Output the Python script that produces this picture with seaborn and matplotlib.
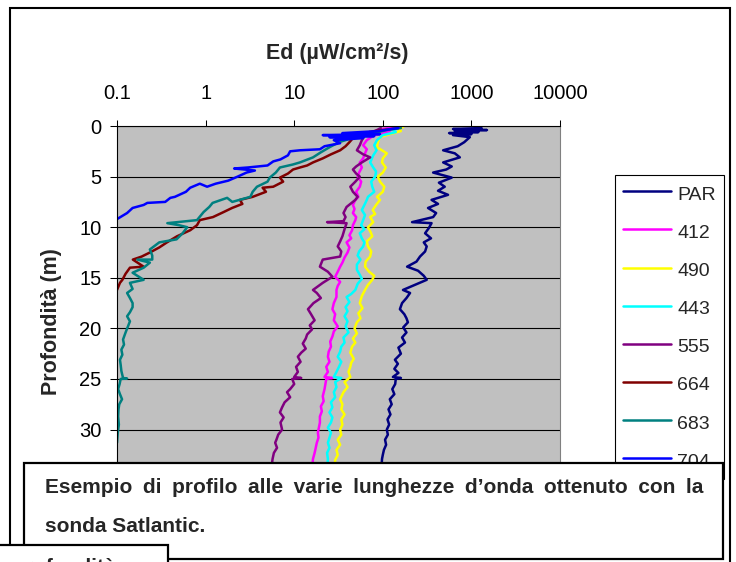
import matplotlib
matplotlib.use("Agg")
import matplotlib.pyplot as plt
from matplotlib.patches import Rectangle
from matplotlib.lines import Line2D
from matplotlib.ticker import FixedLocator, FixedFormatter, NullLocator
import numpy as np
import pandas as pd
import seaborn as sns

# ---------------- data ----------------
series_names = ["PAR", "412", "490", "443", "555", "664", "683", "704"]
series_colors = ["#000080", "#FF00FF", "#FFFF00", "#00FFFF",
                 "#800080", "#800000", "#008080", "#0000FF"]
x_ticks = [0.1, 1, 10, 100, 1000, 10000]
x_tick_labels = ["0.1", "1", "10", "100", "1000", "10000"]
y_ticks = [0, 5, 10, 15, 20, 25, 30]
y_grid_extra = [35]

par_depth = [0.2, 0.3, 0.4, 0.5, 0.6, 0.7, 0.8, 0.9, 1.1, 1.6, 2.0, 2.4, 2.7, 3.1, 3.6, 4.0, 4.3, 4.6,
             5.1, 5.6, 6.0, 6.4, 6.8, 7.3, 7.7, 8.1, 8.6, 9.0, 9.5, 9.6, 10.1, 10.6, 11.1, 11.5, 11.9,
             12.4, 12.9, 13.4, 13.9, 14.3, 14.8, 15.2, 15.7, 16.2, 16.5, 17.0, 17.5, 18.1, 18.6, 19.0,
             19.4, 19.9, 20.4, 20.9, 21.4, 21.9, 22.5, 23.1, 23.5, 24.0, 24.4, 24.8, 24.9, 25.0, 25.5,
             26.0, 26.5, 27.0, 27.5, 28.0, 28.5, 29.0, 29.5, 30.0, 30.5, 31.0, 31.5, 32.0, 32.5, 32.9,
             33.5, 34.0]
par_ed = [1300, 620, 1500, 650, 1200, 560, 1000, 620, 960, 830, 700, 480, 650, 740, 480, 600, 520, 370,
          600, 430, 500, 420, 545, 355, 420, 324, 400, 370, 214, 355, 330, 300, 350, 290, 313,
          300, 263, 240, 188, 250, 290, 313, 230, 169, 203, 185, 165, 156, 175, 185,
          192, 170, 185, 165, 178, 150, 160, 137, 148, 135, 150, 130, 160, 140, 138,
          128, 135, 120, 126, 116, 122, 113, 118, 111, 114, 106, 109, 103, 100, 98,
          97, 95]

b412_depth = [0.1, 0.3, 0.6, 0.9, 1.4, 1.9, 2.3, 2.7, 3.2, 3.6, 4.1, 4.6, 5.0, 5.5, 6.0, 6.5, 7.0, 7.3,
              7.8, 8.2, 8.6, 9.0, 9.3, 9.8, 10.3, 10.8, 11.1, 11.5, 12.0, 12.5, 13.0, 13.5, 13.9, 14.4,
              14.9, 15.4, 15.8, 16.2, 16.9, 17.5, 18.1, 18.6, 19.2, 19.8, 20.3, 20.8, 21.3, 21.8, 22.3,
              22.8, 23.3, 23.8, 24.3, 24.8, 24.9, 25.0, 25.5, 26.0, 26.7, 27.2, 27.7, 28.2, 28.7, 29.3,
              29.8, 30.3, 30.8, 31.3, 31.8, 32.3, 32.9, 34.0]
b412_ed = [140, 100, 120, 80, 66, 60, 66, 63, 60, 55, 58, 54, 52, 57, 55, 50, 53, 49,
           46, 48, 46, 50, 49, 46, 45, 42, 44, 39, 42, 40, 37, 35, 33, 31,
           29, 33, 31, 30, 30, 28, 27, 29, 28, 31, 28, 27, 25.5, 26, 24.5,
           24, 25, 23, 24, 22, 27, 23, 22.5, 22, 21, 21.5, 20, 20.5, 19.5, 19.5,
           19, 18.5, 18.8, 18, 17.5, 17, 16.3, 15.8]

b490_depth = [0.1, 0.3, 0.5, 0.8, 1.1, 1.6, 2.1, 2.7, 3.2, 3.6, 4.1, 4.6, 5.0, 5.5, 6.0, 6.5, 7.0, 7.3,
              7.8, 8.3, 8.7, 9.0, 9.5, 10.0, 10.5, 10.9, 11.4, 11.9, 12.4, 12.9, 13.4, 13.9, 14.4, 14.8,
              15.2, 15.7, 16.2, 16.8, 17.5, 18.0, 18.5, 19.0, 19.4, 20.0, 20.5, 21.0, 21.4, 21.8, 22.4,
              23.0, 23.4, 23.8, 24.3, 24.8, 25.3, 25.8, 26.3, 27.0, 27.5, 28.0, 28.5, 29.0, 29.5, 30.0,
              30.5, 31.0, 31.5, 32.0, 32.5, 33.0, 34.0]
b490_ed = [170, 150, 160, 120, 93, 88, 86, 111, 100, 98, 108, 100, 88, 93, 104, 100, 86, 93,
           84, 77, 82, 72, 78, 68, 73, 76, 66, 68, 74, 72, 64, 63, 70, 80,
           76, 68, 63, 58, 55, 59, 53, 56, 51, 48, 51, 46, 49, 45, 43,
           47, 44, 43, 41, 43, 37, 40, 36, 33, 35, 34, 37, 34, 35, 33,
           34, 31, 33, 30, 31, 29, 28.5]

b443_depth = [0.1, 0.3, 0.6, 0.9, 1.4, 1.9, 2.4, 2.9, 3.6, 4.1, 4.5, 5.0, 5.5, 6.0, 6.5, 7.0, 7.3, 7.8,
              8.3, 8.8, 9.3, 9.8, 10.2, 10.6, 11.1, 11.5, 11.9, 12.4, 12.8, 13.2, 13.7, 14.2, 14.7, 15.1,
              15.6, 16.2, 16.6, 16.9, 17.4, 17.9, 18.3, 18.8, 19.3, 19.8, 20.4, 20.9, 21.4, 21.8, 22.3,
              22.8, 23.3, 23.8, 24.3, 24.8, 24.9, 25.3, 25.8, 26.3, 26.8, 27.3, 27.8, 28.3, 28.8, 29.3,
              29.8, 30.3, 30.8, 31.3, 31.8, 32.3, 32.9, 34.0]
b443_ed = [155, 130, 140, 100, 86, 80, 85, 78, 72, 78, 84, 82, 74, 76, 80, 68, 66, 62,
           58, 63, 60, 57, 62, 55, 58, 62, 60, 54, 52, 56, 51, 51, 55, 58,
           52, 49, 44, 39, 42, 38, 40, 37, 40, 38, 41, 36, 37, 34, 33,
           31, 34, 32, 30, 28, 34, 29, 30, 28, 29, 26, 27, 25, 27, 26,
           24, 26, 25, 24, 25, 23.5, 24, 23.5]

b555_depth = [0.2, 0.4, 0.7, 1.0, 1.4, 1.9, 2.4, 2.8, 3.1, 3.6, 4.0, 4.3, 4.7, 5.0, 5.5, 6.0, 6.5, 7.0,
              7.3, 7.7, 8.0, 8.6, 9.0, 9.4, 9.5, 9.6, 10.2, 10.9, 11.4, 11.9, 12.4, 12.9, 13.2, 13.9,
              14.4, 14.9, 15.5, 16.2, 16.5, 17.0, 17.5, 18.1, 18.6, 19.2, 19.7, 20.1, 20.6, 21.0, 21.5,
              22.0, 22.4, 22.8, 23.3, 23.8, 24.3, 24.8, 24.9, 25.0, 25.5, 26.0, 26.3, 26.8, 27.3, 27.8,
              28.3, 28.8, 29.3, 30.0, 30.5, 31.0, 31.3, 31.8, 32.3, 32.9, 34.0]
b555_ed = [95, 86, 70, 62, 58, 55, 51, 60, 72, 58, 50, 46, 50, 55, 49, 43, 46, 52,
           49, 43, 39, 36, 38, 36, 23.5, 39, 37, 35, 33, 31, 34, 33, 21, 19.5,
           24, 27, 21, 16.3, 18, 20, 16.5, 14.3, 15.5, 17, 15, 15.9, 14, 13.5, 12.5,
           13.5, 12, 11, 11.8, 10.5, 11, 10, 12, 9.5, 10, 9, 8.3, 9, 7.8, 7.3,
           6.9, 7.6, 7.0, 7.3, 6.6, 6.3, 6.1, 6.4, 5.9, 5.7, 5.5]

b664_depth = [0.2, 0.4, 0.6, 0.7, 0.9, 1.2, 1.6, 2.0, 2.4, 2.8, 3.2, 3.6, 3.9, 4.1, 4.3, 4.7, 5.1, 5.5,
              6.0, 6.1, 6.5, 7.0, 7.3, 7.7, 8.1, 8.5, 9.0, 9.3, 9.8, 10.3, 10.9, 11.5, 12.0, 12.5, 12.9,
              13.2, 13.9, 14.0, 14.6, 15.2, 15.5, 16.2]
b664_ed = [150, 100, 70, 86, 60, 46, 42, 38, 33, 26, 21, 16.3, 14, 11.6, 9.7, 8.5, 6.9, 7.5,
           5.8, 4.4, 4.8, 3.4, 2.44, 2.6, 1.99, 1.6, 1.21, 0.86, 0.8, 0.67, 0.475, 0.366, 0.3, 0.235, 0.19,
           0.151, 0.2, 0.14, 0.125, 0.115, 0.108, 0.1]

b683_depth = [0.2, 0.4, 0.6, 0.8, 1.2, 1.6, 2.1, 2.6, 3.1, 3.6, 3.8, 4.1, 4.6, 5.1, 5.5, 6.0, 6.5, 7.0,
              7.5, 7.1, 7.6, 8.0, 8.5, 9.3, 9.6, 9.8, 10.0, 10.6, 11.2, 11.5, 12.2, 12.8, 13.2, 13.2,
              13.5, 14.0, 14.5, 15.2, 15.5, 16.1, 16.5, 17.0, 17.5, 17.9, 18.4, 18.8, 19.3, 19.8, 20.4,
              21.1, 21.6, 22.1, 22.6, 23.1, 23.6, 24.2, 24.9, 24.95, 25.0, 25.5, 26.0, 26.5, 27.0, 27.5,
              28.0, 28.7, 29.5, 30.3, 31.3]
b683_ed = [160, 110, 90, 60, 45, 32, 25, 20, 16.3, 11.6, 9.7, 6.9, 6.2, 5.3, 5.0, 3.8, 3.4, 3.2,
           2.0, 1.75, 1.2, 1.1, 0.95, 0.8, 0.37, 0.5, 0.62, 0.55, 0.47, 0.3, 0.235, 0.25, 0.25, 0.17,
           0.235, 0.2, 0.15, 0.2, 0.14, 0.15, 0.13, 0.14, 0.15, 0.15, 0.14, 0.13, 0.14, 0.133, 0.125,
           0.117, 0.12, 0.112, 0.115, 0.108, 0.11, 0.112, 0.117, 0.13, 0.11, 0.107, 0.103, 0.108, 0.114, 0.106,
           0.104, 0.103, 0.105, 0.102, 0.1]

b704_depth = [0.2, 0.5, 0.7, 0.8, 0.9, 1.0, 1.1, 1.2, 1.4, 1.7, 2.0, 2.3, 2.4, 2.5, 2.9, 3.3, 3.5, 3.9,
              4.1, 4.2, 4.4, 4.6, 5.0, 5.4, 5.7, 6.0, 5.7, 6.1, 6.5, 7.0, 7.1, 7.5, 7.6, 7.8, 8.1, 8.6, 9.2]
b704_ed = [150, 90, 35, 93, 21, 80, 25, 60, 28, 33, 22, 19.5, 11.6, 9, 8.5, 7, 5.8, 5.0,
           3.0, 2.1, 3.6, 2.9, 2.3, 1.8, 1.3, 1.04, 0.86, 0.67, 0.6, 0.45, 0.4, 0.35, 0.22, 0.2, 0.15, 0.13, 0.1]

all_depths = [par_depth, b412_depth, b490_depth, b443_depth, b555_depth, b664_depth, b683_depth, b704_depth]
all_values = [par_ed, b412_ed, b490_ed, b443_ed, b555_ed, b664_ed, b683_ed, b704_ed]

frames = []
for name, d, v in zip(series_names, all_depths, all_values):
    frames.append(pd.DataFrame({"series": name, "order": np.arange(len(d)),
                                "depth": d, "ed": v}))
df = pd.concat(frames, ignore_index=True)

caption_line1 = "Esempio di profilo alle varie lunghezze d’onda ottenuto con la"
caption_line2 = "sonda Satlantic."

# ---------------- figure ----------------
sns.set_style("white")
plt.rcParams["font.family"] = ["Liberation Sans", "DejaVu Sans"]

W, H = 736, 562
fig = plt.figure(figsize=(W / 100, H / 100), dpi=100)
fig.patch.set_facecolor("white")

ax_left, ax_right, ax_top, ax_bottom = 117, 560, 126, 530.8
ax = fig.add_axes([ax_left / W, 1 - ax_bottom / H, (ax_right - ax_left) / W, (ax_bottom - ax_top) / H])
ax.set_facecolor("#C0C0C0")

palette = dict(zip(series_names, series_colors))
sns.lineplot(data=df, x="ed", y="depth", hue="series", hue_order=series_names,
             palette=palette, sort=False, estimator=None, units="series",
             linewidth=1.8, ax=ax, legend=False)

ax.set_xscale("log")
ax.set_xlim(0.1, 10000)
ax.set_ylim(40, 0)

ax.xaxis.set_major_locator(FixedLocator(x_ticks))
ax.xaxis.set_major_formatter(FixedFormatter(x_tick_labels))
ax.xaxis.set_minor_locator(NullLocator())
ax.yaxis.set_major_locator(FixedLocator(y_ticks))
ax.yaxis.set_minor_locator(NullLocator())

ax.xaxis.tick_top()
ax.tick_params(axis="x", which="major", top=True, bottom=False, labeltop=True, labelbottom=False,
               direction="out", length=4.5, width=0.75, pad=12, labelsize=14.5, colors="black")
ax.tick_params(axis="y", which="major", left=True, right=False, direction="out",
               length=5, width=0.75, pad=6, labelsize=14.5, colors="black")

ax.yaxis.grid(True, color="black", linewidth=0.8)
ax.xaxis.grid(False)
for yg in y_grid_extra:
    ax.axhline(yg, color="black", linewidth=0.8, zorder=0.5)
ax.set_axisbelow(True)

for side in ["top", "left"]:
    ax.spines[side].set_color("black")
    ax.spines[side].set_linewidth(0.8)
ax.spines["right"].set_color("#808080")
ax.spines["right"].set_linewidth(0.8)
ax.spines["bottom"].set_visible(False)

ax.set_xlabel("Ed (µW/cm²/s)", fontsize=15.5, fontweight="bold")
ax.xaxis.set_label_position("top")
ax.xaxis.set_label_coords(0.497, 1 + (ax_top - 53.5) / (ax_bottom - ax_top))
ax.xaxis.label.set_va("center")

ax.set_ylabel("Profondità (m)", fontsize=15.5, fontweight="bold")
ax.yaxis.set_label_coords((51 - ax_left) / (ax_right - ax_left), (ax_bottom - 322) / (ax_bottom - ax_top))
ax.yaxis.label.set_va("center")
ax.yaxis.label.set_ha("center")

# legend
handles = [Line2D([0], [0], color=c, lw=1.8) for c in series_colors]
leg = fig.legend(handles, series_names, loc="upper left",
                 bbox_to_anchor=(615 / W, 1 - 175 / H), bbox_transform=fig.transFigure,
                 frameon=True, fancybox=False, edgecolor="black", framealpha=1,
                 fontsize=14, handlelength=2.5, handleheight=1.3, handletextpad=0.3,
                 labelspacing=0.87, borderpad=0.4, borderaxespad=0)
leg.get_frame().set_linewidth(0.8)
leg.set_zorder(5)

# outer chart border
fig.add_artist(Rectangle((10 / W, 1 - 575 / H), (730 - 10) / W, (575 - 8) / H,
                         transform=fig.transFigure, facecolor="none", edgecolor="black",
                         lw=1.5, zorder=1))

# caption text box over the chart
fig.add_artist(Rectangle((24 / W, 1 - 559 / H), (723 - 24) / W, (559 - 463) / H,
                         transform=fig.transFigure, facecolor="white", edgecolor="black",
                         lw=1.6, zorder=20))
# justified first line: wider (en) spaces between words
fig.text(45 / W, 1 - 493 / H, caption_line1.replace(" ", "\u2002"),
         fontsize=15, fontweight="bold", ha="left", va="baseline", zorder=21)
fig.text(45 / W, 1 - 532 / H, caption_line2,
         fontsize=15, fontweight="bold", ha="left", va="baseline", zorder=21)

# partially visible box at the bottom-left edge
fig.add_artist(Rectangle((-5 / W, 1 - 580 / H), (168 + 5) / W, (580 - 545) / H,
                         transform=fig.transFigure, facecolor="white", edgecolor="black",
                         lw=1.6, zorder=22))
fig.text(13 / W, 1 - 573 / H, "profondità", fontsize=15, fontweight="bold",
         ha="left", va="baseline", zorder=23)

fig.savefig("out.png", dpi=100)
